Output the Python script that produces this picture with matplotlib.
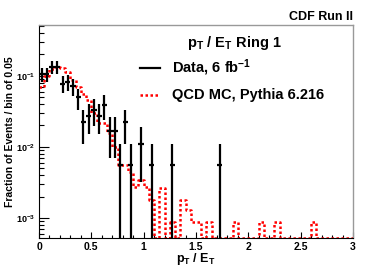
import numpy as np
import matplotlib
matplotlib.use("Agg")
import matplotlib.pyplot as plt
from matplotlib.ticker import MultipleLocator, LogLocator, FixedLocator, NullFormatter, FormatStrFormatter

plt.rcParams['font.family'] = ['Liberation Sans', 'DejaVu Sans']
plt.rcParams['font.weight'] = 'bold'
plt.rcParams['mathtext.fontset'] = 'custom'
plt.rcParams['mathtext.rm'] = 'Liberation Sans:bold'
plt.rcParams['mathtext.bf'] = 'Liberation Sans:bold'
plt.rcParams['mathtext.it'] = 'Liberation Sans:bold'
plt.rcParams['mathtext.default'] = 'bf'

# data: bin centres (width 0.05) and event counts
data_x = [0.025, 0.075, 0.125, 0.175, 0.225, 0.275, 0.325, 0.375, 0.425, 0.475,
          0.525, 0.575, 0.625, 0.675, 0.725, 0.775, 0.825, 0.875, 0.975, 1.075,
          1.275, 1.725]
data_n = [19, 19, 24, 24, 14, 15, 13, 9, 4, 5,
          6, 5, 7, 3, 3, 1, 4, 1, 2, 1,
          1, 1]

# QCD MC fraction per bin, bins of 0.05 from 0 to 3
mc_frac = [0.070, 0.100, 0.125, 0.135, 0.128, 0.114, 0.087, 0.070, 0.056, 0.045,
           0.030, 0.0215, 0.0215, 0.0156, 0.0100, 0.0055, 0.0055, 0.0044, 0.0027, 0.0034,
           0.0027, 0.0018, 0, 0.0026, 0, 0.00088, 0, 0.0018, 0.0013, 0.00088,
           0.00088, 0, 0.00088, 0, 0, 0, 0, 0.00088, 0, 0,
           0, 0, 0.00088, 0, 0, 0.00088, 0, 0, 0, 0,
           0, 0, 0.00088, 0, 0, 0, 0, 0, 0, 0]

ymin, ymax = 5.2e-4, 0.52
bw = 0.05

fig = plt.figure(figsize=(3.92, 2.66), dpi=100)
ax = fig.add_axes([0.0995, 0.105, 0.801, 0.801])
ax.set_yscale('log')

# MC histogram
edges = np.arange(len(mc_frac) + 1) * bw
mc = np.array(mc_frac)
mc_plot = np.where(mc > 0, mc, ymin)
ax.step(edges, np.append(mc_plot, mc_plot[-1]), where='post', color='#ff0000',
        lw=1.8, ls=(0, (1, 1)))

# data points with poisson errors
n = np.array(data_n, dtype=float)
frac = n / n.sum()
err = np.sqrt(n) / n.sum()
lo = np.minimum(err, frac - 1e-6)
ax.errorbar(data_x, frac, yerr=[lo, err], xerr=bw / 2, fmt='none', ecolor='black',
            elinewidth=1.6, capsize=0)

ax.set_xlim(0, 3)
ax.set_ylim(ymin, ymax)

ax.xaxis.set_major_locator(MultipleLocator(0.5))
ax.xaxis.set_minor_locator(MultipleLocator(0.1))
ax.xaxis.set_major_formatter(FormatStrFormatter('%g'))
ax.yaxis.set_major_locator(FixedLocator([1e-3, 1e-2, 1e-1]))
ax.yaxis.set_major_formatter(matplotlib.ticker.FuncFormatter(
    lambda v, p: '$10^{%d}$' % round(np.log10(v))))
ax.yaxis.set_minor_locator(LogLocator(base=10, subs=np.arange(2, 10)))
ax.yaxis.set_minor_formatter(NullFormatter())

ax.tick_params(axis='both', which='both', direction='in', top=False, right=False)
ax.tick_params(axis='x', which='major', length=4, width=0.8, pad=3, labelsize=7.5)
ax.tick_params(axis='x', which='minor', length=2, width=0.8)
ax.tick_params(axis='y', which='major', length=7, width=0.8, pad=3, labelsize=6.5)
ax.tick_params(axis='y', which='minor', length=3.5, width=0.8)

for s in ['top', 'right']:
    ax.spines[s].set_color('#999999')
    ax.spines[s].set_linewidth(1.0)
for s in ['left', 'bottom']:
    ax.spines[s].set_linewidth(0.8)

ax.set_xlabel('$p_T$ / $E_T$', fontsize=9, fontweight='bold', labelpad=-1)
ax.set_ylabel('Fraction of Events / bin of 0.05', fontsize=7.5, fontweight='bold')
ax.yaxis.set_label_coords(-0.078, 0.5)

fig.text(0.9, 0.937, 'CDF Run II', ha='right', va='center', fontsize=9, fontweight='bold')

# legend drawn by hand in axes coordinates
ax.text(0.621, 0.915, '$p_T$ / $E_T$ Ring 1', transform=ax.transAxes, ha='center',
        va='center', fontsize=10.5, fontweight='bold')
ax.plot([0.322, 0.385], [0.798, 0.798], transform=ax.transAxes, color='black', lw=1.6)
ax.text(0.424, 0.798, 'Data, 6 fb$^{-1}$', transform=ax.transAxes, ha='left',
        va='center', fontsize=10.5, fontweight='bold')
ax.plot([0.322, 0.385], [0.671, 0.671], transform=ax.transAxes, color='#ff0000', lw=1.8,
        ls=(0, (1, 1)))
ax.text(0.424, 0.671, 'QCD MC, Pythia 6.216', transform=ax.transAxes, ha='left',
        va='center', fontsize=10.5, fontweight='bold')

fig.savefig('out.png', dpi=100)
